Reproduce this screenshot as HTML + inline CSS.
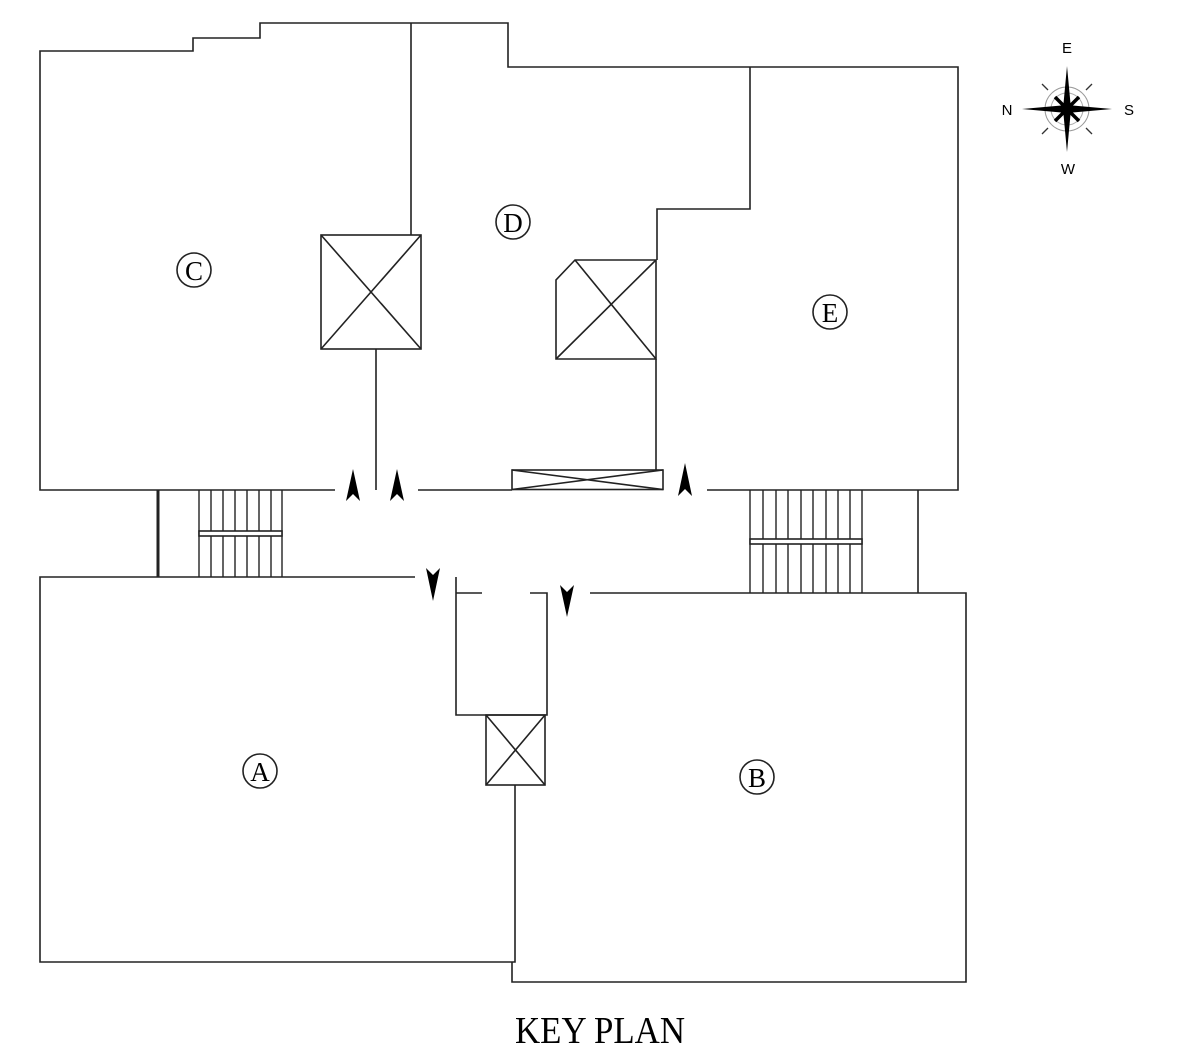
<!DOCTYPE html>
<html><head><meta charset="utf-8"><style>
html,body{margin:0;padding:0;background:#fff;}
svg{display:block;}
</style></head><body>
<svg width="1200" height="1057" viewBox="0 0 1200 1057" xmlns="http://www.w3.org/2000/svg">
<g fill="none" stroke="#222" stroke-width="1.6">
<polyline points="335,490 40,490 40,51 193,51 193,38 260,38 260,23 508,23 508,67 958,67 958,490 707,490"/>
<line x1="418" y1="490" x2="512" y2="490"/>
<line x1="411" y1="23" x2="411" y2="235"/>
<rect x="321" y="235" width="100" height="114"/>
<line x1="321" y1="235" x2="421" y2="349"/><line x1="421" y1="235" x2="321" y2="349"/>
<line x1="376" y1="349" x2="376" y2="490"/>
<polyline points="750,67 750,209 657,209 657,260"/>
<polygon points="575,260 656,260 656,359 556,359 556,280"/>
<line x1="556" y1="359" x2="656" y2="260"/><line x1="575" y1="260" x2="656" y2="359"/>
<line x1="656" y1="359" x2="656" y2="470"/>
<rect x="512" y="470" width="151" height="19.5"/>
<line x1="512" y1="470" x2="663" y2="489.5"/><line x1="663" y1="470" x2="512" y2="489.5"/>
<line x1="158" y1="490" x2="158" y2="577" stroke-width="3"/>
<g stroke-width="1.4">
<line x1="199" y1="490" x2="199" y2="577"/><line x1="211" y1="490" x2="211" y2="577"/>
<line x1="223" y1="490" x2="223" y2="577"/><line x1="235" y1="490" x2="235" y2="577"/>
<line x1="247" y1="490" x2="247" y2="577"/><line x1="259" y1="490" x2="259" y2="577"/>
<line x1="271" y1="490" x2="271" y2="577"/><line x1="282" y1="490" x2="282" y2="577"/>
</g>
<rect x="199" y="531" width="83" height="5" fill="#fff"/>
<g stroke-width="1.4">
<line x1="750" y1="490" x2="750" y2="593"/><line x1="763" y1="490" x2="763" y2="593"/>
<line x1="776" y1="490" x2="776" y2="593"/><line x1="788" y1="490" x2="788" y2="593"/>
<line x1="801" y1="490" x2="801" y2="593"/><line x1="813" y1="490" x2="813" y2="593"/>
<line x1="826" y1="490" x2="826" y2="593"/><line x1="838" y1="490" x2="838" y2="593"/>
<line x1="850" y1="490" x2="850" y2="593"/><line x1="862" y1="490" x2="862" y2="593"/>
</g>
<rect x="750" y="539" width="112" height="5" fill="#fff"/>
<line x1="918" y1="490" x2="918" y2="593"/>
<polyline points="415,577 40,577 40,962 515,962 515,785"/>
<polyline points="456,577 456,715 547,715 547,593 530,593"/>
<line x1="456" y1="593" x2="482" y2="593"/>
<rect x="486" y="715" width="59" height="70"/>
<line x1="486" y1="715" x2="545" y2="785"/><line x1="545" y1="715" x2="486" y2="785"/>
<polyline points="590,593 966,593 966,982 512,982 512,962"/>
<circle cx="194" cy="270" r="17"/>
<circle cx="513" cy="222" r="17"/>
<circle cx="830" cy="312" r="17"/>
<circle cx="260" cy="771" r="17"/>
<circle cx="757" cy="777" r="17"/>
</g>
<g fill="#000">
<path d="M353,469 L346,501 L353,494 L360,501 Z"/>
<path d="M397,469 L390,501 L397,494 L404,501 Z"/>
<path d="M685,463 L678,496 L685,489 L692,496 Z"/>
<path d="M433,601 L426,568 L433,575 L440,568 Z"/>
<path d="M567,617 L560,585 L567,592 L574,585 Z"/>
</g>
<g font-family="Liberation Serif, serif" font-size="27" text-anchor="middle" fill="#000">
<text x="194" y="280">C</text>
<text x="513" y="232">D</text>
<text x="830" y="322">E</text>
<text x="260" y="781">A</text>
<text x="757" y="787">B</text>
</g>
<text x="600" y="1043" font-family="Liberation Serif, serif" font-size="38" text-anchor="middle" textLength="170" lengthAdjust="spacingAndGlyphs">KEY PLAN</text>
<g transform="translate(1067,109)">
<circle r="22" fill="none" stroke="#999" stroke-width="1"/>
<circle r="16" fill="none" stroke="#aaa" stroke-width="1"/>
<g stroke="#333" stroke-width="1.3">
<line x1="-25" y1="-25" x2="-19" y2="-19"/><line x1="25" y1="-25" x2="19" y2="-19"/>
<line x1="-25" y1="25" x2="-19" y2="19"/><line x1="25" y1="25" x2="19" y2="19"/>
</g>
<path d="M0,-43 L4,0 L0,43 L-4,0 Z" fill="#000"/>
<path d="M-45,0 L0,-4 L45,0 L0,4 Z" fill="#000"/>
<g stroke="#000" stroke-width="3.5">
<line x1="-12" y1="-12" x2="12" y2="12"/><line x1="12" y1="-12" x2="-12" y2="12"/>
</g>
</g>
<g font-family="Liberation Sans, sans-serif" font-size="15" fill="#000" text-anchor="middle">
<text x="1067" y="53">E</text>
<text x="1068" y="174">W</text>
<text x="1007" y="115">N</text>
<text x="1129" y="115">S</text>
</g>
</svg>
</body></html>
